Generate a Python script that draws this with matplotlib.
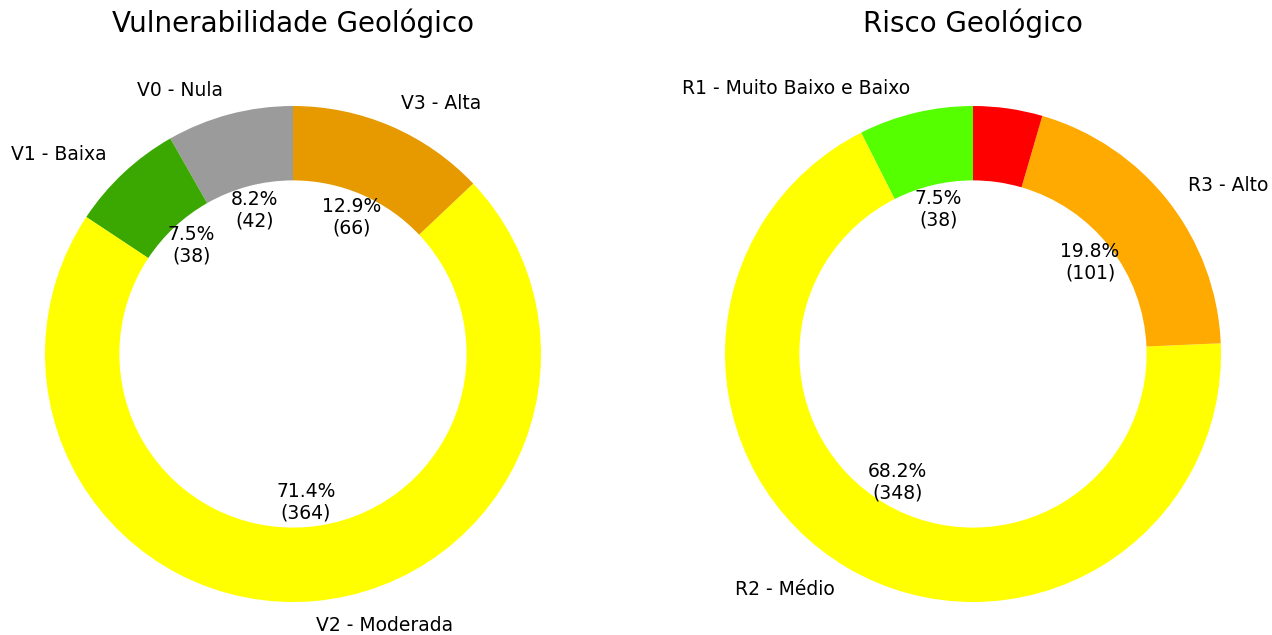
import matplotlib
matplotlib.use("Agg")
import matplotlib.pyplot as plt

# Vulnerabilidade
vul_labels = ["V0 - Nula", "V1 - Baixa", "V2 - Moderada", "V3 - Alta"]
vul_values = [42, 38, 364, 66]
vul_colors = ["#9b9b9b", "#3aa800", "#ffff00", "#e69a00"]

# Risco
risco_labels = ["R1 - Muito Baixo e Baixo", "R2 - Médio", "R3 - Alto", ""]
risco_values = [38, 348, 101, 23]
risco_colors = ["#55ff00", "#ffff00", "#ffaa00", "#ff0000"]


def make_pct(values):
    total = sum(values)

    def fmt(p):
        if p < 5:
            return ""
        n = int(round(p * total / 100.0))
        return "{:.1f}%\n({})".format(p, n)
    return fmt


fig = plt.figure(figsize=(12.72, 6.35), dpi=100)
W, H = 1272.0, 635.0
R = 248.0
lim = 1.05
size = 2 * lim * R


def donut(cx, cy, values, labels, colors, title):
    ax = fig.add_axes([(cx - size / 2) / W, (H - cy - size / 2) / H, size / W, size / H])
    ax.pie(values, labels=labels, colors=colors, startangle=90,
           autopct=make_pct(values), pctdistance=0.6, labeldistance=1.1,
           wedgeprops=dict(width=0.3), textprops=dict(fontsize=13.5))
    ax.set_xlim(-lim, lim)
    ax.set_ylim(-lim, lim)
    ax.set_aspect("equal")
    fig.text(cx / W, 1 - 23 / H, title, ha="center", va="center", fontsize=20)


donut(293, 354, vul_values, vul_labels, vul_colors, "Vulnerabilidade Geológico")
donut(973, 354, risco_values, risco_labels, risco_colors, "Risco Geológico")

fig.savefig("out.png", dpi=100)
